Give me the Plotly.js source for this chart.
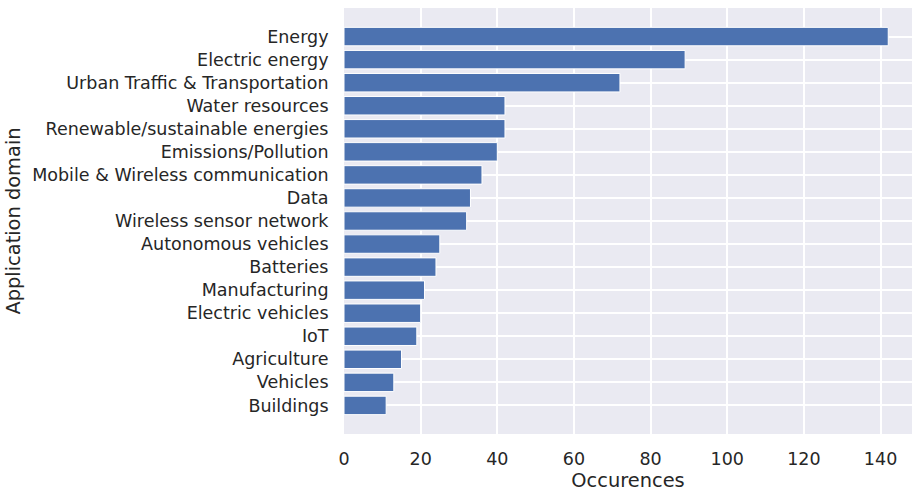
<!DOCTYPE html>
<html><head><meta charset="utf-8">
<script src="https://cdn.plot.ly/plotly-3.0.1.min.js"></script>
<style>body{margin:0;background:#fff}</style>
</head><body><div id="c" style="width:912px;height:492px"></div>
<script>
const domains = ["Energy","Electric energy","Urban Traffic & Transportation","Water resources","Renewable/sustainable energies","Emissions/Pollution","Mobile & Wireless communication","Data","Wireless sensor network","Autonomous vehicles","Batteries","Manufacturing","Electric vehicles","IoT","Agriculture","Vehicles","Buildings"];
const occurrences = [142,89,72,42,42,40,36,33,32,25,24,21,20,19,15,13,11];
const xTicks = [0,20,40,60,80,100,120,140];

const font = "DejaVu Sans, sans-serif";
Plotly.newPlot("c", [{
  type: "bar", orientation: "h",
  y: domains.slice().reverse(), x: occurrences.slice().reverse(),
  marker: {color: "#4c72b0", line: {color: "#ffffff", width: 1}},
  width: 0.8, hoverinfo: "none"
}], {
  width: 912, height: 492,
  margin: {l: 344, r: 0, t: 8, b: 58},
  paper_bgcolor: "#ffffff", plot_bgcolor: "#eaeaf2",
  font: {family: font, size: 17.5, color: "#262626"},
  showlegend: false,
  xaxis: {range: [0, 148.2], tickvals: xTicks, gridcolor: "#ffffff", gridwidth: 2,
    zeroline: false, showline: false, ticks: "outside", ticklen: 9, tickcolor: "rgba(0,0,0,0)",
    tickfont: {size: 17.5, color: "#262626"},
    title: {text: "Occurences", font: {size: 19.4, color: "#262626"}, standoff: 2}},
  yaxis: {range: [-1.24, 17.24], gridcolor: "#ffffff", gridwidth: 2,
    zeroline: false, showline: false, ticks: "outside", ticklen: 11, tickcolor: "rgba(0,0,0,0)",
    tickfont: {size: 17.5, color: "#262626"},
    title: {text: "Application domain", font: {size: 19.4, color: "#262626"}, standoff: 6}}
}, {staticPlot: true});
</script></body></html>
